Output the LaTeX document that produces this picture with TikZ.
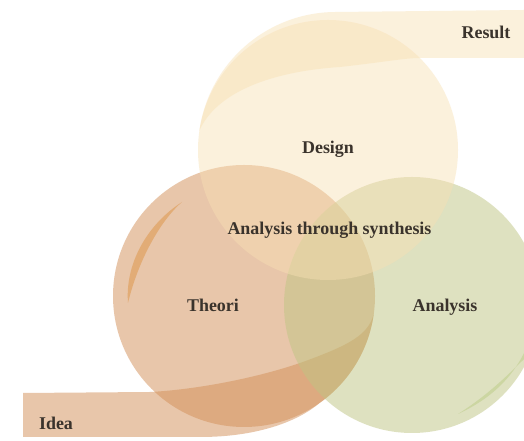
\documentclass[tikz,border=0pt]{standalone}
\usepackage{fontspec}
\setmainfont{Liberation Serif}
\usepackage{tikz}

\definecolor{theoricol}{HTML}{D38F57}
\definecolor{analysiscol}{HTML}{BFC583}
\definecolor{designcol}{HTML}{F8E0B3}
\definecolor{slivercol}{HTML}{E2AC76}
\definecolor{greensliver}{HTML}{CCD6A2}
\definecolor{labelcol}{HTML}{3A332C}

\begin{document}
\begin{tikzpicture}[x=1bp, y=1bp,
    word/.style={font=\bfseries\fontsize{18}{20}\selectfont, text=labelcol, inner sep=0pt, anchor=base}]
    \useasboundingbox (0,0) rectangle (524,441);
    \clip (0,0) rectangle (524,441);
    \fill[white] (0,0) rectangle (524,441);
    % theori circle, its sliver and the idea ribbon
    \fill[theoricol, fill opacity=.5] (244,145) circle (131);
    \fill[slivercol] (182,239) .. controls (145,215) and (125,175) .. (128,138) .. controls (138,180) and (160,220) .. (182,239) -- cycle;
    \fill[theoricol, fill opacity=.5] (23,48) -- (150,49) .. controls (190,51) and (250,61) .. (300,78) .. controls (350,96) and (368,106) .. (373.7,126.8) arc[start angle=-8, end angle=-54.6, radius=131] .. controls (300,21) and (260,4) .. (200,4) -- (23,4) -- cycle;
    % analysis circle
    \fill[analysiscol, fill opacity=.5] (412,136) circle (128);
    \fill[greensliver] (526,92) .. controls (512,62) and (490,42) .. (458,27) .. controls (488,46) and (508,66) .. (526,84) -- cycle;
    % design circle and the result ribbon
    \fill[designcol, fill opacity=.45] (328,291) circle (130);
    \fill[designcol, fill opacity=.45] (524,431) -- (336,429) arc[start angle=90, end angle=172, radius=138] .. controls (215,346) and (265,369) .. (340,374) .. controls (385,379) and (405,383) .. (420,383) -- (524,383) -- cycle;
    % labels
    \node[word] (design) at (328,287) {Design};
    \node[word] (synth) at (329.5,206) {Analysis through synthesis};
    \node[word] (theori) at (213,129) {Theori};
    \node[word] (analysis) at (445,129) {Analysis};
    \node[word] (result) at (486,402) {Result};
    \node[word] (idea) at (56,11) {Idea};
\end{tikzpicture}
\end{document}
